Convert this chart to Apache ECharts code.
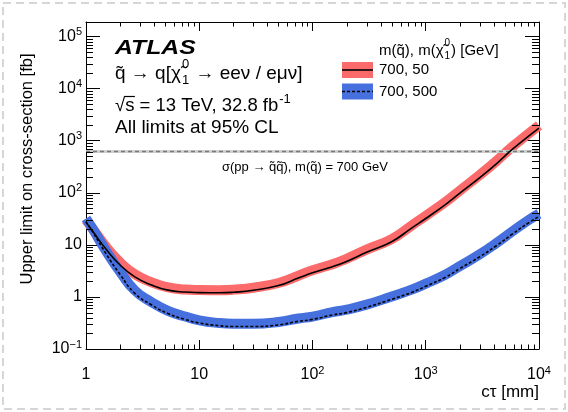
<!DOCTYPE html>
<html><head><meta charset="utf-8">
<script src="https://cdn.jsdelivr.net/npm/echarts@6/dist/echarts.min.js"></script>
<style>html,body{margin:0;padding:0;background:#fff}#c{width:568px;height:412px}</style>
</head><body><div id="c"></div>
<script>
// ---- data ----
const ctau = [1, 1.15, 1.5, 2, 2.7, 3.8, 5.3, 7.5, 10, 15, 20, 30, 50, 75, 100, 150, 200, 300, 500, 750, 1000, 1500, 2000, 3000, 4200, 5800, 8200, 10000];
const limit700_50 = [27, 18, 8.3, 4.1, 2.43, 1.69, 1.35, 1.24, 1.21, 1.2, 1.23, 1.34, 1.65, 2.3, 2.9, 3.8, 4.8, 7.2, 11.5, 21, 32, 60, 98, 195, 360, 680, 1250, 1750];
const band700_50 = [30, 20.2, 9.2, 4.6, 2.72, 1.9, 1.52, 1.39, 1.36, 1.35, 1.38, 1.5, 1.85, 2.55, 3.25, 4.25, 5.4, 8.1, 12.9, 23.5, 36, 67, 110, 220, 405, 760, 1400, 1960];
const limit700_500 = [28, 17.5, 6.8, 2.7, 1.17, 0.70, 0.48, 0.37, 0.315, 0.28, 0.27, 0.27, 0.29, 0.34, 0.37, 0.45, 0.5, 0.63, 0.9, 1.22, 1.6, 2.4, 3.5, 5.9, 9.6, 16, 27, 35];
const band700_500 = [32, 20, 7.7, 3.05, 1.33, 0.79, 0.54, 0.42, 0.355, 0.315, 0.305, 0.305, 0.33, 0.385, 0.42, 0.51, 0.57, 0.71, 1.02, 1.38, 1.8, 2.7, 3.9, 6.6, 10.8, 18, 30.5, 39.5];
const sigmaXRange = [1, 10000];
const sigmaRef = 620;
const xTickValues = [1, 10, 100, 1000, 10000];
const xTickLabels = ['1', '10', '10^2', '10^3', '10^4'];
const yTickValues = [0.1, 1, 10, 100, 1000, 10000, 100000];
const yTickLabels = ['10^\u22121', '1', '10', '10^2', '10^3', '10^4', '10^5'];
const minorMult = [2, 3, 4, 5, 6, 7, 8, 9];
const xDecades = [1, 10, 100, 1000];
const yDecades = [0.1, 1, 10, 100, 1000, 10000];
const xMin = 1, xMax = 10000, yMin = 0.1, yMax = 190000;

const FF = '"Liberation Sans", Arial, Helvetica, sans-serif';
const RED = '#fc6b6b', BLUE = '#4670de';
const SMOOTH = 0.5;

const zip = (a, b) => a.map((v, i) => [v, b[i]]);

function labelFmt(values, labels) {
  return function (v) {
    const i = values.findIndex(t => Math.abs(Math.log10(t) - Math.log10(v)) < 1e-6);
    if (i < 0) return '';
    const parts = labels[i].split('^');
    return parts[1] ? '{b|' + parts[0] + '}{s|' + parts[1] + '}' : '{b|' + parts[0] + '}';
  };
}
const richLab = {
  b: { fontSize: 16, fontFamily: FF, color: '#000', lineHeight: 20 },
  s: { fontSize: 11, fontFamily: FF, color: '#000', lineHeight: 10, verticalAlign: 'top' }
};

// minor tick positions
const minorData = [];
xDecades.forEach(d => minorMult.forEach(m => minorData.push([d * m, yMin, 0])));
yDecades.forEach(d => minorMult.forEach(m => { if (d * m < yMax) minorData.push([xMin, d * m, 1]); }));

// text helpers
const cv = document.createElement('canvas').getContext('2d');
function measure(t, size, weight, style) {
  cv.font = (style || 'normal') + ' ' + (weight || 'normal') + ' ' + size + 'px ' + FF;
  return cv.measureText(t).width;
}
function txt(x, y, t, size, o) {
  o = o || {};
  const el = {
    type: 'text', x: x, y: y, silent: true, rotation: o.rotation || 0,
    style: {
      text: t, fontSize: size, fontFamily: FF, fontWeight: o.weight || 'normal', fontStyle: o.style || 'normal',
      fill: '#000', align: o.align || 'left', verticalAlign: 'middle', textAlign: o.align || 'left', textVerticalAlign: 'middle'
    }
  };
  if (o.scaleX) el.scaleX = o.scaleX;
  return el;
}
function mathLine(x0, yc, parts, size, small, supOff, subOff) {
  const els = []; let x = x0;
  parts.forEach(p => {
    if (typeof p === 'string') { els.push(txt(x, yc, p, size)); x += measure(p, size); }
    else {
      x += 1;
      let w = 0;
      if (p.sup) { els.push(txt(x, yc + supOff, p.sup, small)); w = Math.max(w, measure(p.sup, small)); }
      if (p.sub) { els.push(txt(x, yc + subOff, p.sub, small)); w = Math.max(w, measure(p.sub, small)); }
      x += w + 1;
    }
  });
  return els;
}

const graphics = [];
graphics.push({ type: 'rect', silent: true, shape: { x: 3, y: 3, width: 562, height: 406 }, style: { fill: 'none', stroke: '#d6d6d6', lineWidth: 2, lineDash: [8, 5] } });
graphics.push(txt(115, 48.5, 'ATLAS', 19.5, { weight: 'bold', style: 'italic', scaleX: 1.27 }));
graphics.push(...mathLine(115, 73.5, ['q\u0303 \u2192 q[\u03c7\u0303', { sub: '1', sup: '0' }, ' \u2192 ee\u03bd / e\u03bc\u03bd]'], 19, 13, -9.5, 6.5));
graphics.push(...mathLine(115, 105.5, ['\u221as = 13 TeV, 32.8 fb', { sup: '-1' }], 18.5, 13, -6.5, 6));
const sqW = measure('\u221a', 18.5), sW = measure('\u221as', 18.5);
graphics.push({ type: 'line', silent: true, shape: { x1: 115 + sqW - 1, y1: 96.5, x2: 115 + sW + 0.5, y2: 96.5 }, style: { stroke: '#000', lineWidth: 1.2 } });
graphics.push(txt(115, 127.5, 'All limits at 95% CL', 19));
// legend
graphics.push(...mathLine(379, 51, ['m(q\u0303), m(\u03c7\u0303', { sub: '1', sup: '0' }, ') [GeV]'], 15, 10, -7.5, 5.5));
graphics.push({ type: 'rect', silent: true, shape: { x: 342, y: 62, width: 31, height: 16 }, style: { fill: RED } });
graphics.push({ type: 'line', silent: true, shape: { x1: 342, y1: 70, x2: 373, y2: 70 }, style: { stroke: '#000', lineWidth: 1.6 } });
graphics.push(txt(379, 70, '700, 50', 15));
graphics.push({ type: 'rect', silent: true, shape: { x: 342, y: 83.5, width: 31, height: 16 }, style: { fill: BLUE } });
graphics.push({ type: 'line', silent: true, shape: { x1: 342, y1: 91.5, x2: 373, y2: 91.5 }, style: { stroke: '#000', lineWidth: 1.6, lineDash: [3, 2] } });
graphics.push(txt(379, 91.5, '700, 500', 15));
// sigma label
graphics.push(txt(222, 167.5, '\u03c3(pp \u2192 q\u0303q\u0303\u0304), m(q\u0303) = 700 GeV', 13));
// axis titles
graphics.push(txt(539, 392, 'c\u03c4 [mm]', 17, { align: 'right' }));
graphics.push(txt(27, 169, 'Upper limit on cross-section [fb]', 16.5, { align: 'center', rotation: Math.PI / 2 }));

const chart = echarts.init(document.getElementById('c'), null, { renderer: 'canvas' });
const axisLineStyle = { show: true, lineStyle: { color: '#000', width: 1 } };
chart.setOption({
  animation: false,
  backgroundColor: '#fff',
  grid: { left: 86, right: 29, top: 22, bottom: 63, containLabel: false, outerBoundsMode: 'none' },
  xAxis: [
    { type: 'log', logBase: 10, min: xMin, max: xMax, position: 'bottom', axisLine: axisLineStyle,
      axisTick: { show: true, inside: true, length: 9, lineStyle: { color: '#000' } },
      axisLabel: { show: true, margin: 16, formatter: labelFmt(xTickValues, xTickLabels), rich: richLab, color: '#000' },
      splitLine: { show: false }, minorTick: { show: false } },
    { type: 'log', logBase: 10, min: xMin, max: xMax, position: 'top', axisLine: axisLineStyle,
      axisTick: { show: true, inside: true, length: 9, lineStyle: { color: '#000' } },
      axisLabel: { show: false }, splitLine: { show: false } }
  ],
  yAxis: [
    { type: 'log', logBase: 10, min: yMin, max: yMax, position: 'left', axisLine: axisLineStyle,
      axisTick: { show: true, inside: true, length: 14, lineStyle: { color: '#000' } },
      axisLabel: { show: true, margin: 4, formatter: labelFmt(yTickValues, yTickLabels), rich: richLab, color: '#000' },
      splitLine: { show: false } },
    { type: 'log', logBase: 10, min: yMin, max: yMax, position: 'right', axisLine: axisLineStyle,
      axisTick: { show: true, inside: true, length: 14, lineStyle: { color: '#000' } },
      axisLabel: { show: false }, splitLine: { show: false } }
  ],
  series: [
    { name: 'band50', type: 'line', data: zip(ctau, band700_50), symbol: 'none', smooth: SMOOTH, silent: true,
      lineStyle: { color: RED, width: 10, cap: 'butt' }, z: 2 },
    { name: 'band500', type: 'line', data: zip(ctau, band700_500), symbol: 'none', smooth: SMOOTH, silent: true,
      lineStyle: { color: BLUE, width: 10, cap: 'butt' }, z: 2 },
    { name: 'sigmaBand', type: 'line', data: zip(sigmaXRange, [sigmaRef, sigmaRef]), symbol: 'none', silent: true,
      lineStyle: { color: '#d0d0d0', width: 3 }, z: 3 },
    { name: 'sigma', type: 'line', data: zip(sigmaXRange, [sigmaRef, sigmaRef]), symbol: 'none', silent: true,
      lineStyle: { color: '#7a7a7a', width: 1.6, type: [4, 3] }, z: 3 },
    { name: '700, 50', type: 'line', data: zip(ctau, limit700_50), symbol: 'none', smooth: SMOOTH, silent: true,
      lineStyle: { color: '#000', width: 1.6 }, z: 4 },
    { name: '700, 500', type: 'line', data: zip(ctau, limit700_500), symbol: 'none', smooth: SMOOTH, silent: true,
      lineStyle: { color: '#000', width: 1.6, type: [3, 2] }, z: 4 },
    { name: 'minorTicks', type: 'custom', coordinateSystem: 'cartesian2d', silent: true, z: 5, clip: false,
      data: minorData,
      renderItem: function (params, api) {
        const cs = params.coordSys;
        const kind = api.value(2);
        const p = api.coord([api.value(0), api.value(1)]);
        const st = { stroke: '#000', lineWidth: 1 };
        if (kind === 0) {
          const x = Math.round(p[0]) + 0.5;
          return { type: 'group', children: [
            { type: 'line', shape: { x1: x, y1: cs.y + cs.height, x2: x, y2: cs.y + cs.height - 4.5 }, style: st },
            { type: 'line', shape: { x1: x, y1: cs.y, x2: x, y2: cs.y + 4.5 }, style: st }
          ] };
        } else {
          const y = Math.round(p[1]) + 0.5;
          return { type: 'group', children: [
            { type: 'line', shape: { x1: cs.x, y1: y, x2: cs.x + 7, y2: y }, style: st },
            { type: 'line', shape: { x1: cs.x + cs.width, y1: y, x2: cs.x + cs.width - 7, y2: y }, style: st }
          ] };
        }
      }
    }
  ],
  graphic: { elements: graphics }
});
</script>
</body></html>
